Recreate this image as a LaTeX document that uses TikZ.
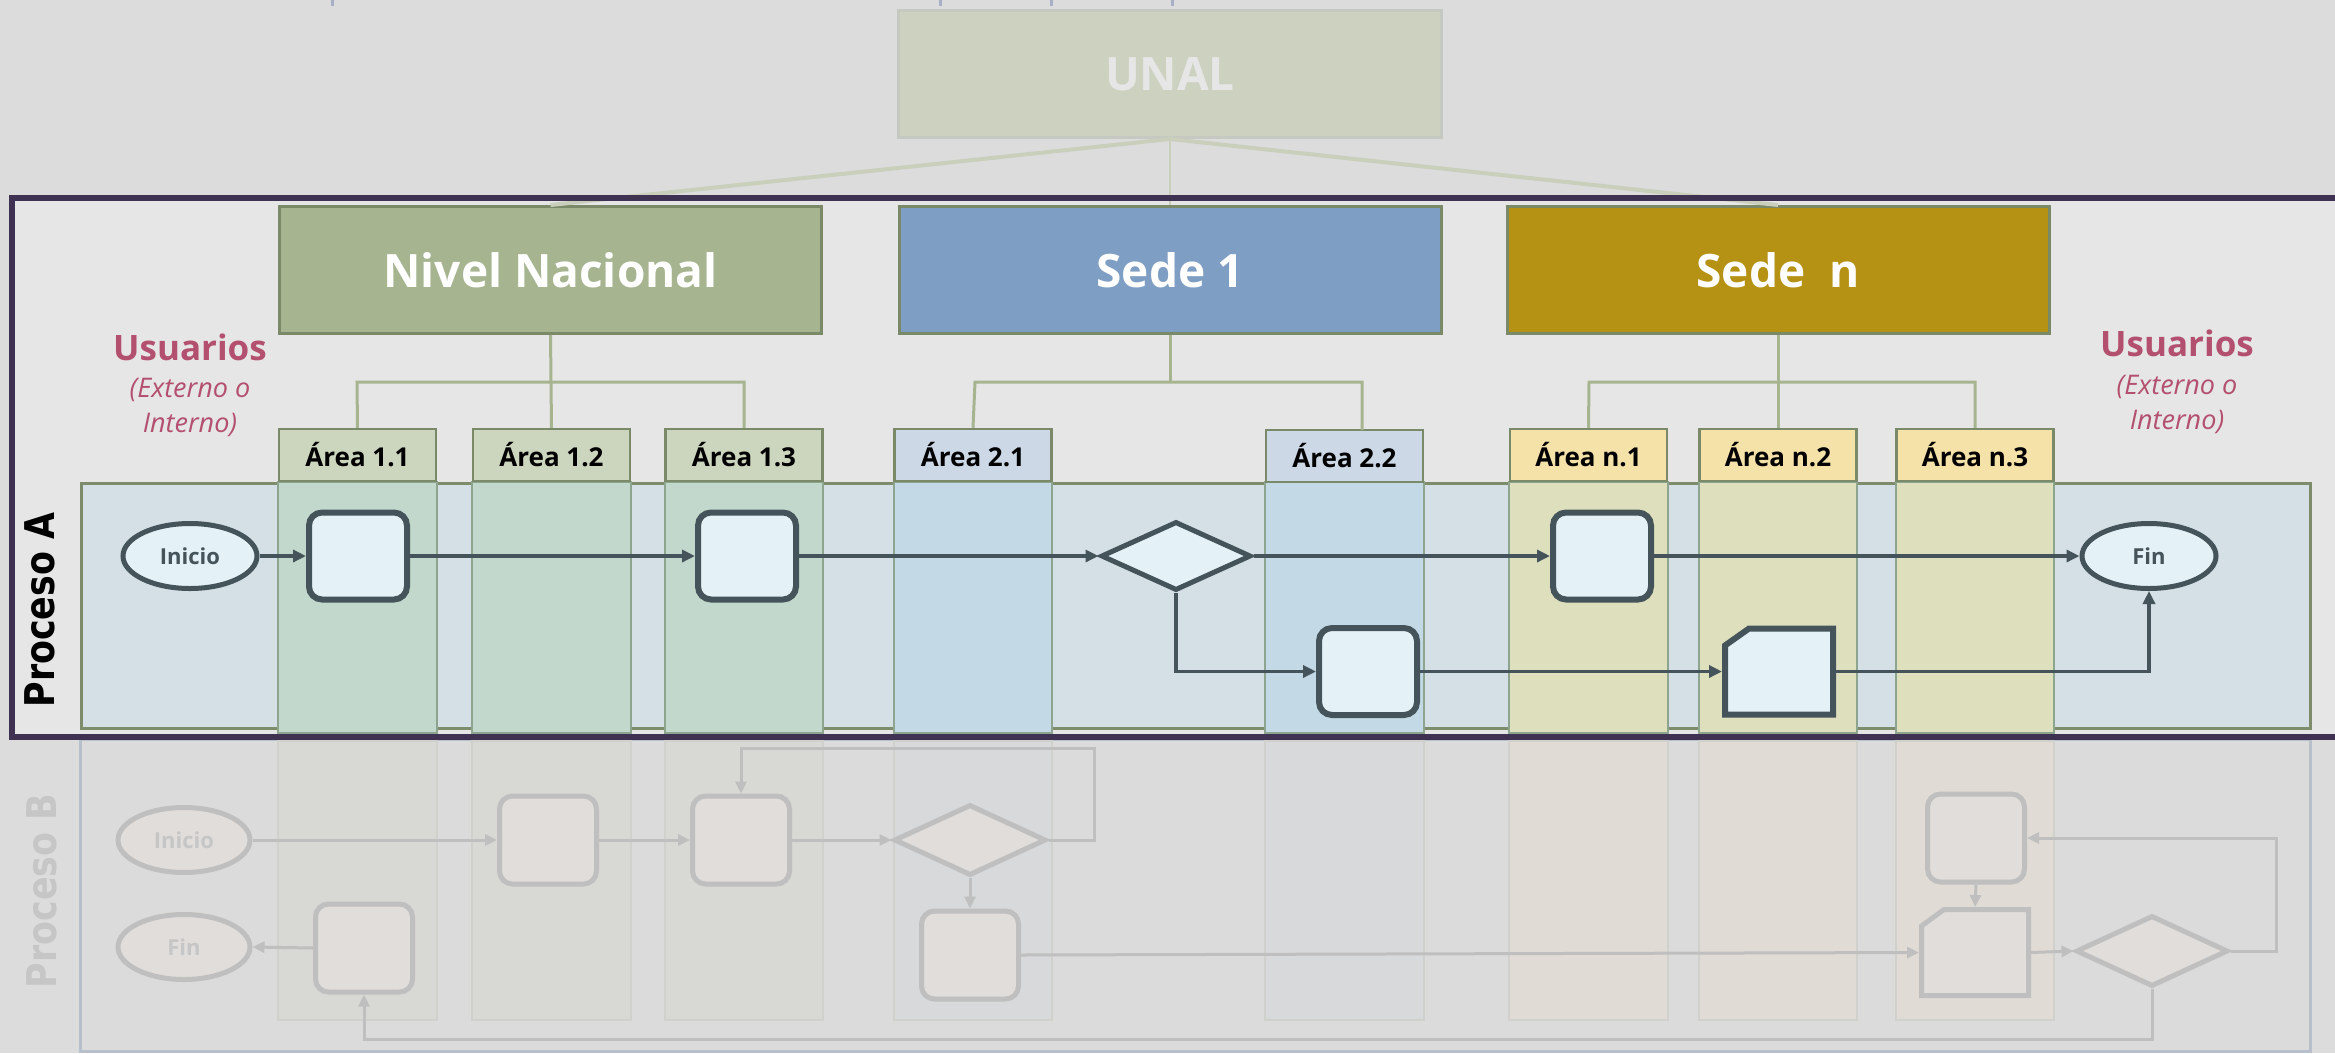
\documentclass[tikz,border=0pt]{standalone}
\usepackage{fontspec}
\setmainfont{Open Sans}
\newfontfamily\procfont{DejaVu Sans}
\usepackage{graphicx}
\usetikzlibrary{arrows.meta,shapes.geometric,calc}
\definecolor{bgc}{HTML}{DCDCDC}
\definecolor{frin}{HTML}{E6E6E6}
\definecolor{frm}{HTML}{3F3152}
\definecolor{unf}{HTML}{CDD2C0}
\definecolor{unb}{HTML}{C6C8C2}
\definecolor{unl}{HTML}{C9CFBB}
\definecolor{tick}{HTML}{A9AFC6}
\definecolor{nivc}{HTML}{A6B490}
\definecolor{sd1c}{HTML}{7F9EC3}
\definecolor{sdnc}{HTML}{B59114}
\definecolor{bdr}{HTML}{7A8A68}
\definecolor{hg}{HTML}{CCD5BD}
\definecolor{hb}{HTML}{CCD8E6}
\definecolor{hy}{HTML}{F5E2A8}
\definecolor{poolA}{HTML}{D4E0E6}
\definecolor{poolAb}{HTML}{7D8D6B}
\definecolor{sg}{HTML}{C3D8CD}
\definecolor{sb}{HTML}{C3DAE6}
\definecolor{sy}{HTML}{DEE0BD}
\definecolor{stb}{HTML}{8DA48E}
\definecolor{dk}{HTML}{45535A}
\definecolor{shf}{HTML}{E4F1F6}
\definecolor{usr}{HTML}{B4506F}
\definecolor{poolB}{HTML}{DCDBDB}
\definecolor{poolBb}{HTML}{B7BFCB}
\definecolor{fg}{HTML}{D8D9D4}
\definecolor{fb}{HTML}{D8D9DA}
\definecolor{fy}{HTML}{E0DBD5}
\definecolor{fsb}{HTML}{D0D1CC}
\definecolor{fsh}{HTML}{E0DDDA}
\definecolor{fln}{HTML}{BFBFBF}
\definecolor{ftx}{HTML}{C6C6C6}
\begin{document}
\begin{tikzpicture}[x=1pt,y=-1pt,
  ttl/.style={draw=bdr, line width=3pt, inner sep=0pt, minimum width=542pt, minimum height=127pt, text=white, font=\fontsize{46}{55}\selectfont\bfseries},
  hdr/.style={draw=bdr, line width=2.5pt, inner sep=0pt, minimum width=157pt, minimum height=52pt, font=\fontsize{26}{30}\selectfont\bfseries, text=black},
  treeln/.style={draw=nivc, line width=3pt},
  shpA/.style={draw=dk, fill=shf, line width=6pt},
  boxA/.style={shpA, rectangle, rounded corners=13pt, inner sep=0pt, minimum width=98pt, minimum height=87pt},
  ovA/.style={shpA, ellipse, line width=5pt, inner sep=0pt, minimum width=134pt, minimum height=65pt, font=\fontsize{22}{26}\selectfont\bfseries, text=dk},
  dmA/.style={shpA, diamond, line width=5pt, inner sep=0pt, minimum width=150pt, minimum height=69pt},
  arA/.style={draw=dk, line width=3.5pt, -{Triangle[length=13pt,width=12pt]}},
  shpB/.style={draw=fln, fill=fsh, line width=5pt},
  boxB/.style={shpB, rectangle, rounded corners=13pt, inner sep=0pt, minimum width=97pt, minimum height=88pt},
  ovB/.style={shpB, ellipse, inner sep=0pt, minimum width=132pt, minimum height=65pt, font=\fontsize{22}{26}\selectfont\bfseries, text=ftx},
  dmB/.style={shpB, diamond, inner sep=0pt, minimum width=152pt, minimum height=71pt},
  arB/.style={draw=fln, line width=3pt, -{Triangle[length=12pt,width=11pt]}},
  cardnode/.style={draw=none, inner sep=0pt, outer sep=0pt},
  usrb/.style={text=usr, font=\fontsize{35}{40}\selectfont\bfseries},
  usri/.style={text=usr, font=\fontsize{27}{32}\selectfont\itshape},
  proc/.style={rotate=90, font=\fontsize{41}{46}\selectfont\procfont\bfseries}
]
\useasboundingbox (0,0) rectangle (2335,1053);
\clip (0,0) rectangle (2335,1053);
\fill[bgc] (0,0) rectangle (2335,1053);
% top ticks
\foreach \tx in {332,940,1051,1172} \draw[tick, line width=3pt] (\tx,0) -- (\tx,6);
% UNAL
\node[draw=unb, fill=unf, line width=3pt, inner sep=0pt, minimum width=543pt, minimum height=127pt, text=frin, font=\fontsize{46}{55}\selectfont\bfseries] (unal) at (1170,74) {UNAL};
% frame interior
\fill[frin] (12,198) rectangle (2350,737);
% title boxes
\node[ttl, fill=nivc] (niv) at (550.5,270) {Nivel Nacional};
\node[ttl, fill=sd1c] (sd1) at (1170,270) {Sede 1};
\node[ttl, fill=sdnc] (sdn) at (1778,270) {Sede~~n};
\draw[unl, line width=4pt] (unal.south) -- (niv.north);
\draw[unl, line width=2.5pt] (unal.south) -- (sd1.north);
\draw[unl, line width=4pt] (unal.south) -- (sdn.north);
% pool A
\draw[fill=poolA, draw=poolAb, line width=3pt] (81,483) rectangle (2310,728);
% strips A
\foreach \xa/\xb/\cc in {278/437/sg, 472/631/sg, 665/823/sg, 894/1052/sb, 1265/1424/sb, 1509/1668/sy, 1699/1857/sy, 1896/2054/sy}
  \draw[fill=\cc, draw=stb, line width=2pt] (\xa,482) rectangle (\xb,733);
% pool B
\draw[fill=poolB, draw=poolBb, line width=3pt] (80,739) rectangle (2310,1051);
\foreach \xa/\xb/\cc in {278/437/fg, 472/631/fg, 665/823/fg, 894/1052/fb, 1265/1424/fb, 1509/1668/fy, 1699/1857/fy, 1896/2054/fy}
  \draw[fill=\cc, draw=fsb, line width=2pt] (\xa,741) rectangle (\xb,1020);
% headers
\node[hdr, fill=hg] (a11) at (357.5,455) {Área 1.1};
\node[hdr, fill=hg] (a12) at (551.5,455) {Área 1.2};
\node[hdr, fill=hg] (a13) at (744,455) {Área 1.3};
\node[hdr, fill=hb] (a21) at (973,455) {Área 2.1};
\node[hdr, fill=hb] (a22) at (1344.5,456) {Área 2.2};
\node[hdr, fill=hy] (an1) at (1588.5,455) {Área n.1};
\node[hdr, fill=hy] (an2) at (1778,455) {Área n.2};
\node[hdr, fill=hy] (an3) at (1975,455) {Área n.3};
% tree lines
\coordinate (t1) at (357,382);
\coordinate (t2) at (975,382);
\coordinate (t3) at (1589,382);
\coordinate (a22t) at (1362,430);
\draw[treeln] (niv.south) -- (a12.north);
\draw[treeln] (a11.north) -- (t1) -| (a13.north);
\draw[treeln] (sd1.south) -- (sd1.south |- t2);
\draw[treeln] (a21.north) -- (t2) -| (a22t);
\draw[treeln] (sdn.south) -- (an2.north);
\draw[treeln] (an1.north) -- (t3) -| (an3.north);
% Process A shapes
\node[ovA] (iniA) at (190,556) {Inicio};
\node[boxA] (b1) at (358,556) {};
\node[boxA] (b2) at (747,556) {};
\node[dmA] (dA) at (1176,556) {};
\node[boxA] (bn1) at (1602,556) {};
\node[ovA] (finA) at (2149,556) {Fin};
\node[boxA] (b22) at (1368,671.5) {};
\node[cardnode, minimum width=114pt, minimum height=92pt] (cardA) at (1779,671.5) {};
\draw[shpA] ($(cardA.north west)+(3,20)$) -- ($(cardA.north west)+(27,3)$) -- ($(cardA.north east)+(-3,3)$) -- ($(cardA.south east)+(-3,-3)$) -- ($(cardA.south west)+(3,-3)$) -- cycle;
\draw[arA] (iniA.east) -- (b1.west);
\draw[arA] (b1.east) -- (b2.west);
\draw[arA] (b2.east) -- (dA.west);
\draw[arA] (dA.east) -- (bn1.west);
\draw[arA] (bn1.east) -- (finA.west);
\draw[arA] (dA.south) |- (b22.west);
\draw[arA] (b22.east) -- (cardA.west);
\draw[arA] (cardA.east) -| (finA.south);
% Process B shapes
\node[ovB] (iniB) at (184,840) {Inicio};
\node[ovB] (finB) at (184,947) {Fin};
\node[boxB] (bB1) at (548,840) {};
\node[boxB] (bB2) at (741,840) {};
\node[dmB] (dB) at (970,840) {};
\node[boxB] (bB3) at (970,955) {};
\node[boxB] (bB4) at (364,948) {};
\node[boxB] (bB5) at (1976,838) {};
\node[dmB] (dB2) at (2152,951) {};
\node[cardnode, minimum width=112pt, minimum height=91pt] (cardB) at (1975,952.5) {};
\draw[shpB] ($(cardB.north west)+(2.5,19)$) -- ($(cardB.north west)+(25,2.5)$) -- ($(cardB.north east)+(-2.5,2.5)$) -- ($(cardB.south east)+(-2.5,-2.5)$) -- ($(cardB.south west)+(2.5,-2.5)$) -- cycle;
\coordinate (lpB) at (1094,748);
\coordinate (rpB) at (2276,838);
\coordinate (btB) at (2152,1039);
\draw[arB] (iniB.east) -- (bB1.west);
\draw[arB] (bB1.east) -- (bB2.west);
\draw[arB] (bB2.east) -- (dB.west);
\draw[arB] (dB.east) -| (lpB) -| (bB2.north);
\draw[arB] (dB.south) -- (bB3.north);
\draw[arB] (bB3.east) -- (cardB.west);
\draw[arB] (bB5.south) -- (cardB.north);
\draw[arB] (cardB.east) -- (dB2.west);
\draw[arB] (dB2.east) -| (rpB) -- (bB5.east);
\draw[arB] (dB2.south) -- (btB) -| (bB4.south);
\draw[arB] (bB4.west) -- (finB.east);
% frame border
\draw[frm, line width=6pt] (2350,198) -- (12,198) -- (12,737) -- (2350,737);
% labels
\node[usrb] (u1) at (190,347) {Usuarios};
\node[usri] (u1b) at (190,390) {(Externo o};
\node[usri] (u1c) at (190,425) {Interno)};
\node[usrb] (u2) at (2177,343) {Usuarios};
\node[usri] (u2b) at (2177,387) {(Externo o};
\node[usri] (u2c) at (2177,422) {Interno)};
\node[proc, text=black] (pA) at (40,610) {\scalebox{0.85}[1]{Proceso A}};
\node[proc, text=ftx] (pB) at (42,891) {\scalebox{0.85}[1]{Proceso B}};
\end{tikzpicture}
\end{document}
